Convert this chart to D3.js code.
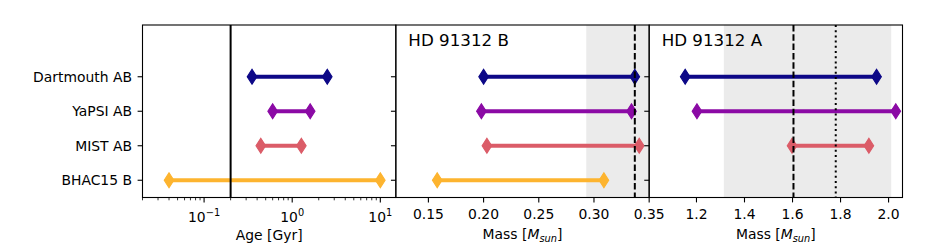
<!DOCTYPE html>
<html>
<head>
<meta charset="utf-8">
<script src="https://cdn.jsdelivr.net/npm/d3@7"></script>
<style>
    body { margin: 0; background: #fff; }
    text { font-family: "DejaVu Sans", sans-serif; fill: #000; }
</style>
</head>
<body>
<div id="chart"></div>
<script>
"use strict";

// model rows, top to bottom
var models = ["Dartmouth AB", "YaPSI AB", "MIST AB", "BHAC15 B"];
var colors = ["#0d0887", "#8b0aa5", "#db5c68", "#fdb42f"];

// age ranges [Gyr]
var ageLow = [0.35, 0.60, 0.44, 0.04];
var ageHigh = [2.5, 1.6, 1.27, 10];

// HD 91312 B mass ranges [Msun]
var massBLow = [0.200, 0.198, 0.203, 0.158];
var massBHigh = [0.337, 0.334, 0.341, 0.309];

// HD 91312 A mass ranges [Msun] (no BHAC15 value)
var massALow = [1.153, 1.202, 1.598, null];
var massAHigh = [1.950, 2.030, 1.918, null];

// reference values
var ageLine = 0.2;
var massBDashed = 0.337;
var massBShade = [0.293, 0.40];
var massADashed = 1.604;
var massADotted = 1.78;
var massAShade = [1.314, 2.011];

var massBTicks = [0.15, 0.20, 0.25, 0.30, 0.35];
var massATicks = [1.2, 1.4, 1.6, 1.8, 2.0];
var ageMajor = [0.1, 1, 10];
var ageExp = ["\u22121", "0", "1"];

var width = 950, height = 250;
var plotLeft = 142.5, plotRight = 902.5, plotTop = 25, plotBottom = 197.5;
var panelW = (plotRight - plotLeft) / 3;
var fs = 13.9; //10pt

var svg = d3.select("#chart").append("svg")
    .attr("width", width)
    .attr("height", height);

var y = d3.scaleLinear().domain([-0.5, 4.5]).range([plotBottom, plotTop]);
function rowY(i) { return y(models.length - 1 - i); }

function drawPanel(idx, x, lows, highs, extras) {
    var x0 = plotLeft + idx * panelW;
    var g = svg.append("g");

    var clipId = "clip" + idx;
    svg.append("clipPath").attr("id", clipId)
        .append("rect")
        .attr("x", x0).attr("y", plotTop)
        .attr("width", panelW).attr("height", plotBottom - plotTop);

    var inner = g.append("g").attr("clip-path", "url(#" + clipId + ")");

    //shaded range first so it sits below everything
    if (extras.shade) {
        inner.append("rect")
            .attr("x", x(extras.shade[0]))
            .attr("y", plotTop)
            .attr("width", x(extras.shade[1]) - x(extras.shade[0]))
            .attr("height", plotBottom - plotTop)
            .attr("fill", "#ebebeb");
    }

    var rows = models.map(function (m, i) { return { i: i, lo: lows[i], hi: highs[i] }; })
        .filter(function (d) { return d.lo != null; });

    inner.selectAll("line.range")
        .data(rows)
        .enter().append("line")
        .attr("class", "range")
        .attr("x1", function (d) { return x(d.lo); })
        .attr("x2", function (d) { return x(d.hi); })
        .attr("y1", function (d) { return rowY(d.i); })
        .attr("y2", function (d) { return rowY(d.i); })
        .attr("stroke", function (d) { return colors[d.i]; })
        .attr("stroke-width", 4.2);

    var ends = [];
    rows.forEach(function (d) {
        ends.push({ i: d.i, v: d.lo });
        ends.push({ i: d.i, v: d.hi });
    });

    //thin diamond markers
    inner.selectAll("path.marker")
        .data(ends)
        .enter().append("path")
        .attr("class", "marker")
        .attr("d", "M0,-7.4L4.8,0L0,7.4L-4.8,0Z")
        .attr("transform", function (d) { return "translate(" + x(d.v) + "," + rowY(d.i) + ")"; })
        .attr("fill", function (d) { return colors[d.i]; })
        .attr("stroke", function (d) { return colors[d.i]; })
        .attr("stroke-width", 1.1);

    (extras.vlines || []).forEach(function (l) {
        inner.append("line")
            .attr("x1", x(l.v)).attr("x2", x(l.v))
            .attr("y1", plotTop).attr("y2", plotBottom)
            .attr("stroke", "#000")
            .attr("stroke-width", 2)
            .attr("stroke-dasharray", l.dash || null);
    });

    //y ticks on every panel, labels only on the first one
    var yAxis = g.append("g");
    models.forEach(function (m, i) {
        yAxis.append("line")
            .attr("x1", x0 - 4.9).attr("x2", x0)
            .attr("y1", rowY(i)).attr("y2", rowY(i))
            .attr("stroke", "#000").attr("stroke-width", 1.1);
        if (idx === 0) {
            yAxis.append("text")
                .attr("x", x0 - 10.5)
                .attr("y", rowY(i))
                .attr("dy", "0.36em")
                .attr("text-anchor", "end")
                .attr("font-size", fs)
                .text(m);
        }
    });

    //frame
    g.append("rect")
        .attr("x", x0).attr("y", plotTop)
        .attr("width", panelW).attr("height", plotBottom - plotTop)
        .attr("fill", "none")
        .attr("stroke", "#000")
        .attr("stroke-width", 1.1);

    return { g: g, x0: x0 };
}

// ---------------- age panel (log)
var xAge = d3.scaleLog().domain([0.02, 15]).range([plotLeft, plotLeft + panelW]);
var p0 = drawPanel(0, xAge, ageLow, ageHigh, {
    vlines: [{ v: ageLine }]
});

xAge.ticks().forEach(function (t) {
    var isMajor = Math.abs(Math.log10(t) - Math.round(Math.log10(t))) < 1e-9;
    p0.g.append("line")
        .attr("x1", xAge(t)).attr("x2", xAge(t))
        .attr("y1", plotBottom).attr("y2", plotBottom + (isMajor ? 4.9 : 2.8))
        .attr("stroke", "#000")
        .attr("stroke-width", isMajor ? 1.1 : 0.8);
});

ageMajor.forEach(function (t, k) {
    var txt = p0.g.append("text")
        .attr("x", xAge(t))
        .attr("y", 222)
        .attr("text-anchor", "middle")
        .attr("font-size", fs);
    txt.append("tspan").text("10");
    txt.append("tspan")
        .attr("dy", -6.5)
        .attr("font-size", 9.8)
        .text(ageExp[k]);
});

p0.g.append("text")
    .attr("x", plotLeft + panelW / 2)
    .attr("y", 240)
    .attr("text-anchor", "middle")
    .attr("font-size", fs)
    .text("Age [Gyr]");

// ---------------- mass panels
function massAxis(p, x, ticks, fmt) {
    ticks.forEach(function (t) {
        p.g.append("line")
            .attr("x1", x(t)).attr("x2", x(t))
            .attr("y1", plotBottom).attr("y2", plotBottom + 4.9)
            .attr("stroke", "#000").attr("stroke-width", 1.1);
        p.g.append("text")
            .attr("x", x(t))
            .attr("y", 218.5)
            .attr("text-anchor", "middle")
            .attr("font-size", fs)
            .text(fmt(t));
    });

    var lab = p.g.append("text")
        .attr("x", p.x0 + panelW / 2)
        .attr("y", 238.5)
        .attr("text-anchor", "middle")
        .attr("font-size", fs);
    lab.append("tspan").text("Mass [");
    lab.append("tspan").attr("font-style", "italic").text("M");
    lab.append("tspan").attr("font-style", "italic").attr("font-size", 9.8).attr("dy", 3).text("sun");
    lab.append("tspan").attr("dy", -3).text("]");
}

function panelTitle(p, s) {
    p.g.append("text")
        .attr("x", p.x0 + 12.5)
        .attr("y", 46)
        .attr("font-size", 16.7)
        .text(s);
}

var xB = d3.scaleLinear().domain([0.1205, 0.35]).range([plotLeft + panelW, plotLeft + 2 * panelW]);
var p1 = drawPanel(1, xB, massBLow, massBHigh, {
    shade: massBShade,
    vlines: [{ v: massBDashed, dash: "6.5,2.8" }]
});
massAxis(p1, xB, massBTicks, d3.format(".2f"));
panelTitle(p1, "HD 91312 B");

var xA = d3.scaleLinear().domain([1.003, 2.058]).range([plotLeft + 2 * panelW, plotRight]);
var p2 = drawPanel(2, xA, massALow, massAHigh, {
    shade: massAShade,
    vlines: [{ v: massADashed, dash: "6.5,2.8" }, { v: massADotted, dash: "2,3.2" }]
});
massAxis(p2, xA, massATicks, d3.format(".1f"));
panelTitle(p2, "HD 91312 A");
</script>
</body>
</html>
